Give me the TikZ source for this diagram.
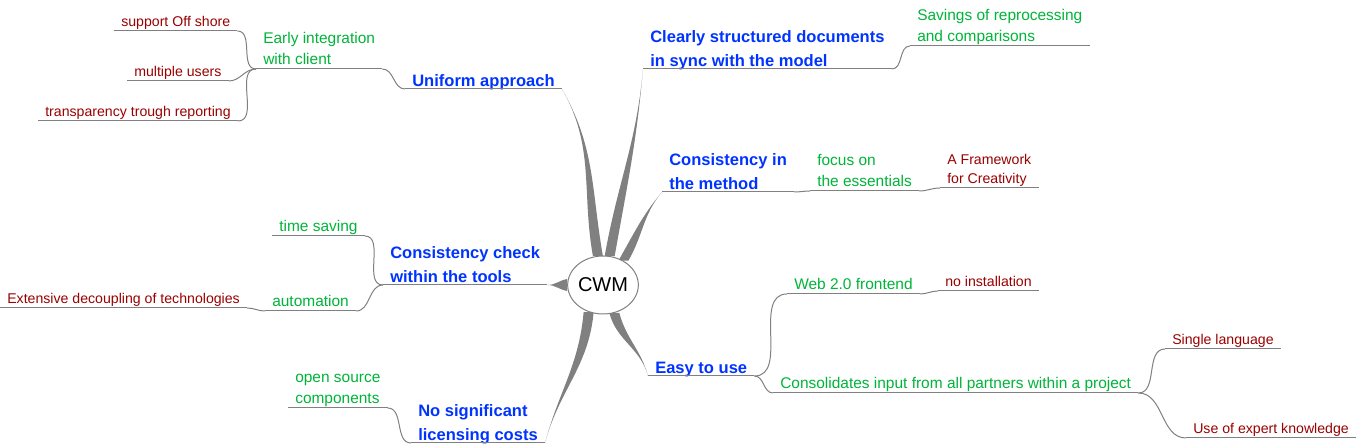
\documentclass[tikz,border=0pt]{standalone}
\usepackage{fontspec}
\setmainfont{Liberation Sans}
\usepackage{tikz}
\usetikzlibrary{shapes.geometric,calc,backgrounds}
\usepackage{xcolor}
\definecolor{mmblue}{RGB}{0,51,255}
\definecolor{mmgreen}{RGB}{0,180,57}
\definecolor{mmred}{RGB}{153,0,0}
\definecolor{mmgray}{RGB}{128,128,128}

\begin{document}
\begin{tikzpicture}[x=0.75pt,y=0.75pt,
  link/.style={draw=mmgray, line width=0.75pt},
  trunk/.style={fill=mmgray},
  uline/.style={anchor=south west, inner xsep=5.25pt, inner ysep=0.3pt, align=left,
    append after command={(\tikzlastnode.south west) edge[link] (\tikzlastnode.south east)}},
  topic/.style={uline, text=mmblue, text depth=1.3pt, font=\fontsize{12.4}{18}\selectfont\bfseries},
  sub/.style={uline, text=mmgreen, text depth=2.7pt, font=\fontsize{11.6}{15.75}\selectfont},
  leaf/.style={uline, text=mmred, text depth=2.7pt, font=\fontsize{10.6}{14.25}\selectfont},
  root/.style={ellipse, draw=mmgray, line width=0.75pt, fill=white, inner sep=0pt,
    minimum width=49.5pt, minimum height=43.5pt, font=\fontsize{15}{18}\selectfont}]
  \useasboundingbox (0,0) rectangle (1356,-448);
  \node[root] (cwm) at (603,-285) {CWM};
  % Left side
  \node[topic] (uni)   at (405,-89)  {Uniform approach};
  \node[sub]   (early) at (256,-69)  {Early integration\\with client};
  \node[leaf]  (off)   at (114,-31)  {support Off shore};
  \node[leaf]  (multi) at (127,-81)  {multiple users};
  \node[leaf]  (trans) at (38,-121)  {transparency trough reporting};
  \node[topic] (cc)    at (383,-285) {Consistency check\\within the tools};
  \node[sub]   (time)  at (272,-236) {time saving};
  \node[sub]   (auto)  at (265,-311) {automation};
  \node[leaf]  (deco)  at (0,-308)   {Extensive decoupling of technologies};
  \node[topic] (nolic) at (411,-443) {No significant\\licensing costs};
  \node[sub]   (open)  at (288,-408) {open source\\components};
  % Right side
  \node[topic] (clear) at (643,-69)  {Clearly structured documents\\in sync with the model};
  \node[sub]   (save)  at (910,-46)  {Savings of reprocessing\\and comparisons};
  \node[topic] (meth)  at (662,-192) {Consistency in\\the method};
  \node[sub]   (focus) at (810,-191) {focus on\\the essentials};
  \node[leaf]  (frame) at (940,-188) {A Framework\\for Creativity};
  \node[topic] (easy)  at (648,-376) {Easy to use};
  \node[sub]   (web)   at (787,-294) {Web 2.0 frontend};
  \node[leaf]  (noinst) at (938,-291) {no installation};
  \node[sub]   (cons)  at (773,-393) {Consolidates input from all partners within a project};
  \node[leaf]  (single) at (1165,-349) {Single language};
  \node[leaf]  (expert) at (1186,-438) {Use of expert knowledge};
  %
  % Links:
  \begin{scope}[on background layer]
  \fill[trunk] (uni.south east) to[out=-60,in=100] ($(cwm.100)+(5,0)$) -- ($(cwm.100)-(5,0)$) to[out=100,in=-60] (uni.south east);
  \fill[trunk] (clear.south west) to[out=-95,in=80] ($(cwm.77)+(5,0)$) -- ($(cwm.77)-(5,0)$) to[out=80,in=-95] (clear.south west);
  \fill[trunk] (meth.south west) to[out=-130,in=60] ($(cwm.50)+(5,0)$) -- ($(cwm.50)-(5,0)$) to[out=60,in=-130] (meth.south west);
  \fill[trunk] (cc.south east) to[out=0,in=190] ($(cwm.180)+(0,6)$) -- ($(cwm.180)-(0,6)$) to[out=170,in=0] (cc.south east);
  \fill[trunk] (nolic.south east) to[out=75,in=-95] ($(cwm.-118)+(5,0)$) -- ($(cwm.-118)-(5,0)$) to[out=-95,in=75] (nolic.south east);
  \fill[trunk] (easy.south west) to[out=105,in=-75] ($(cwm.-68)+(5,0)$) -- ($(cwm.-68)-(5,0)$) to[out=-75,in=105] (easy.south west);
  \end{scope}
  \draw[link] (uni.south west) to[out=180,in=0] (early.south east);
  \draw[link] (early.south west) to[out=180,in=0] (off.south east);
  \draw[link] (early.south west) to[out=180,in=0] (multi.south east);
  \draw[link] (early.south west) to[out=180,in=0] (trans.south east);
  \draw[link] (cc.south west) to[out=180,in=0] (time.south east);
  \draw[link] (cc.south west) to[out=180,in=0] (auto.south east);
  \draw[link] (auto.south west) to[out=180,in=0] (deco.south east);
  \draw[link] (nolic.south west) to[out=180,in=0] (open.south east);
  \draw[link] (clear.south east) to[out=0,in=180] (save.south west);
  \draw[link] (meth.south east) to[out=0,in=180] (focus.south west);
  \draw[link] (focus.south east) to[out=0,in=180] (frame.south west);
  \draw[link] (easy.south east) to[out=0,in=180] (web.south west);
  \draw[link] (easy.south east) to[out=0,in=180] (cons.south west);
  \draw[link] (web.south east) to[out=0,in=180] (noinst.south west);
  \draw[link] (cons.south east) to[out=0,in=180] (single.south west);
  \draw[link] (cons.south east) to[out=0,in=180] (expert.south west);
\end{tikzpicture}
\end{document}
